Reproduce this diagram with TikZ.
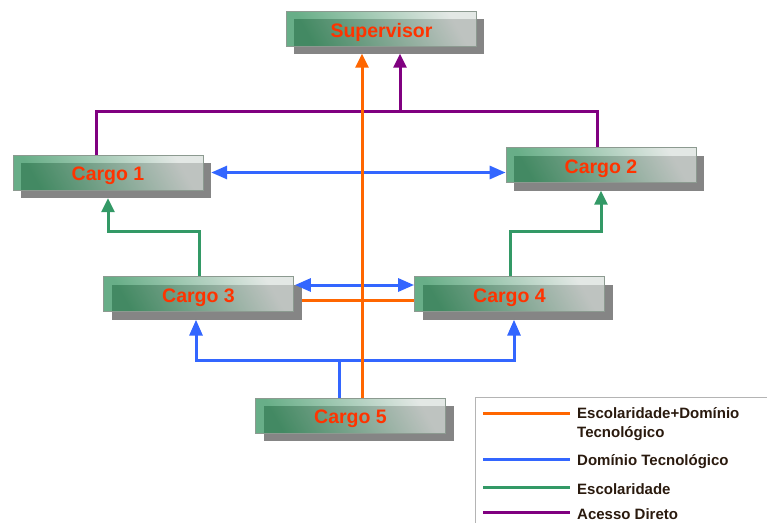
\documentclass[tikz,border=0pt]{standalone}
\usepackage{fontspec}
\setmainfont{Liberation Sans}
\usetikzlibrary{arrows.meta,calc}
\definecolor{cOrange}{HTML}{FF6600}
\definecolor{cBlue}{HTML}{3366FF}
\definecolor{cGreen}{HTML}{339966}
\definecolor{cPurple}{HTML}{800080}
\definecolor{cLabel}{HTML}{FF3300}
\definecolor{cShadow}{HTML}{858585}
\definecolor{cFrame}{HTML}{8C9A90}
\definecolor{cBoxL}{RGB}{40,140,85}
\definecolor{cBoxR}{RGB}{215,222,218}
\definecolor{cLegend}{HTML}{2A1A0E}
\definecolor{cLegFrame}{HTML}{B4B4B4}

\begin{document}
\begin{tikzpicture}[x=1pt,y=-1pt,
  shadowbox/.style={fill=cShadow, draw=none, minimum width=190pt,
    minimum height=35pt, inner sep=0pt},
  cargobox/.style={draw=cFrame, line width=0.8pt, left color=cBoxL,
    right color=cBoxR, shading angle=120, fill opacity=0.7, text opacity=1,
    minimum width=190pt, minimum height=35pt, inner sep=0pt,
    text height=16pt, text depth=0pt, text=cLabel,
    font=\bfseries\fontsize{19.5}{23}\selectfont},
  link/.style={line width=3pt},
  endtip/.style={-{Triangle[length=14pt,width=13pt]}},
  bothtips/.style={{Triangle[length=16pt,width=13pt]}-{Triangle[length=16pt,width=13pt]}},
  legline/.style={line width=3pt},
  legtext/.style={text=cLegend, inner sep=0pt, anchor=base west,
    font=\bfseries\fontsize{15}{18}\selectfont}
]
\useasboundingbox (0,0) rectangle (767,522);

% boxes: shadow first, then the translucent front panel
\node[shadowbox] (sup-s) at (388.5,36) {};
\node[cargobox]  (sup)   at (381.5,29) {Supervisor};

\node[shadowbox] (c1-s) at (116,180.5) {};
\node[cargobox]  (c1)   at (108,172.5) {Cargo 1};

\node[shadowbox] (c2-s) at (609,173) {};
\node[cargobox]  (c2)   at (601,165) {Cargo 2};

\node[shadowbox] (c3-s) at (206.5,302) {};
\node[cargobox]  (c3)   at (198.5,294) {Cargo 3};

\node[shadowbox] (c4-s) at (517.5,302) {};
\node[cargobox]  (c4)   at (509.5,294) {Cargo 4};

\node[shadowbox] (c5-s) at (358.5,423.5) {};
\node[cargobox]  (c5)   at (350.5,415.5) {Cargo 5};

% Acesso Direto
\draw[link, cPurple] ($(c1.north)+(-12,0)$) |- ($(c2.north)+(-4,-36)$) -- ($(c2.north)+(-4,0)$);
\draw[link, cPurple, endtip] ($(sup-s.south)+(11.5,57.5)$) -- ($(sup-s.south)+(11.5,0)$);

% Escolaridade
\draw[link, cGreen, endtip] ($(c3.north)+(0.5,0)$) -- ++(0,-45) -| ($(c1-s.south)+(-8,0)$);
\draw[link, cGreen, endtip] ($(c4.north)+(0.5,0)$) -- ++(0,-45) -| ($(c2-s.south)+(-8,0)$);

% Domínio Tecnológico
\draw[link, cBlue, bothtips] (c1-s.east |- c1.east) -- (c2.west |- c1.east);
\draw[link, cBlue, bothtips] ($(c3.east)+(1,-9)$) -- ($(c4.west)+(0,-9)$);
\coordinate (bj) at ($(c5.north)+(-11.5,-38)$);
\coordinate (bl) at ($(c3-s.south)+(-10.5,40.5)$);
\coordinate (br) at ($(c4-s.south)+(-3.5,40.5)$);
\draw[link, cBlue] ($(c5.north)+(-11.5,0)$) -- (bj);
\draw[link, cBlue, bothtips] ($(c3-s.south)+(-10.5,0)$) -- (bl) -- (br) -- ($(c4-s.south)+(-3.5,0)$);

% Escolaridade + Domínio Tecnológico
\draw[link, cOrange] ($(c3-s.east)+(0,-2)$) -- ($(c4.west)+(0,6)$);
\draw[link, cOrange, endtip] ($(c5.north)+(11.5,0)$) -- ($(sup-s.south)+(-26.5,0)$);

% legend
\draw[cLegFrame, line width=1.2pt] (475.5,530) |- (775,397.5);
\draw[legline, cOrange] (483,413) -- (570,413);
\node[legtext] (lg1a) at (577,418) {Escolaridade+Domínio};
\node[legtext] (lg1b) at (577,437) {Tecnológico};
\draw[legline, cBlue] (483,459) -- (570,459);
\node[legtext] (lg2) at (577,465) {Domínio Tecnológico};
\draw[legline, cGreen] (483,487) -- (570,487);
\node[legtext] (lg3) at (577,494) {Escolaridade};
\draw[legline, cPurple] (483,512) -- (570,512);
\node[legtext] (lg4) at (577,519) {Acesso Direto};
\end{tikzpicture}
\end{document}
